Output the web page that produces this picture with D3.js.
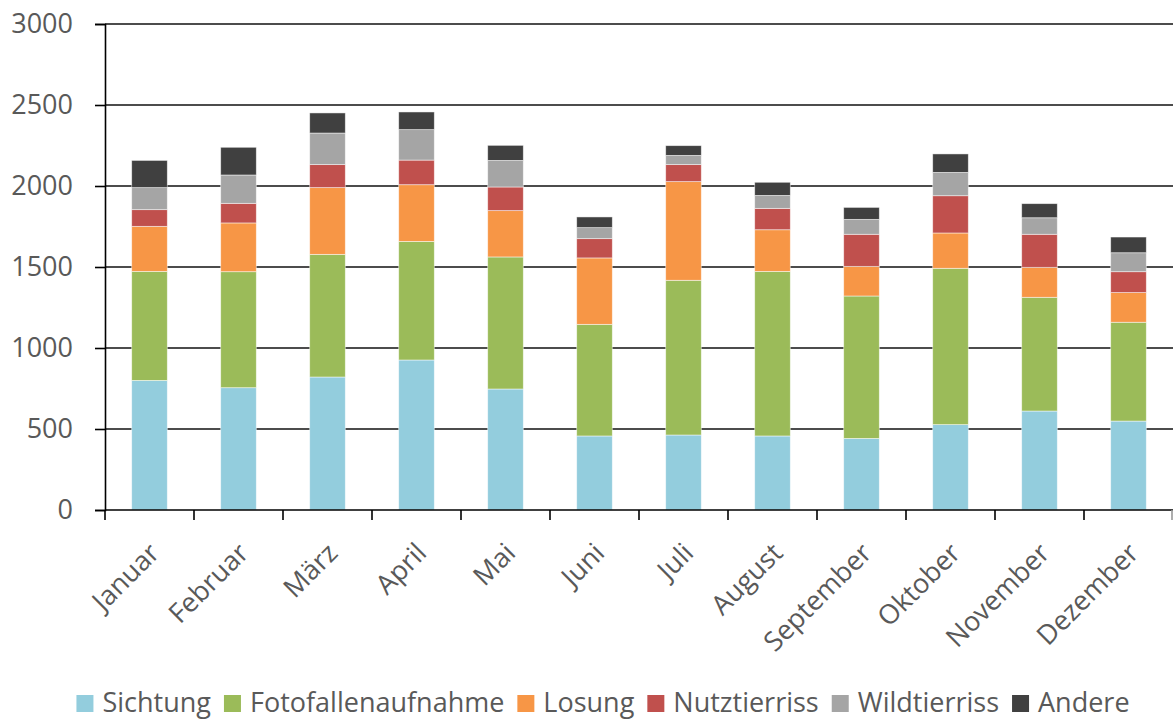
<!DOCTYPE html>
<html>
<head>
<meta charset="utf-8">
<script src="https://cdn.jsdelivr.net/npm/d3@7"></script>
<style>
  body { margin: 0; background: #fff; }
  svg { display: block; font-family: "Open Sans", sans-serif; }
</style>
</head>
<body>
<div id="chart"></div>
<script>
const months = ['Januar','Februar','März','April','Mai','Juni','Juli','August','September','Oktober','November','Dezember']
const seriesNames = ['Sichtung','Fotofallenaufnahme','Losung','Nutztierriss','Wildtierriss','Andere']
const colors = ['#93cddd','#9bbb59','#f79646','#c0504d','#a5a5a5','#404040']

const sichtung = [800,755,821,926,747,457,463,457,442,527,611,549]
const fotofallen = [673,716,757,732,815,689,955,1016,879,965,702,610]
const losung = [278,301,412,350,286,410,609,257,183,218,185,183]
const nutztierriss = [103,121,142,152,146,119,105,132,198,230,204,129]
const wildtierriss = [136,175,195,188,164,68,57,80,92,144,102,117]
const andere = [168,171,124,109,93,66,60,81,74,114,87,97]
const yTicks = [0,500,1000,1500,2000,2500,3000]

const W = 1173, H = 722
const margin = {top: 24, right: 0, bottom: 212, left: 105}

const rows = months.map((m, i) => ({
  month: m,
  Sichtung: sichtung[i],
  Fotofallenaufnahme: fotofallen[i],
  Losung: losung[i],
  Nutztierriss: nutztierriss[i],
  Wildtierriss: wildtierriss[i],
  Andere: andere[i]
}))

const svg = d3.select('#chart').append('svg')
  .attr('width', W)
  .attr('height', H)

const x = d3.scaleBand()
  .domain(months)
  .range([margin.left, W - margin.right])
  .paddingInner(0.6)
  .paddingOuter(0.3)
const y = d3.scaleLinear()
  .domain([0, 3000])
  .range([H - margin.bottom, margin.top])

const color = d3.scaleOrdinal().domain(seriesNames).range(colors)

/* gridlines */
svg.append('g').attr('class','grid')
  .selectAll('line').data(yTicks.filter(d => d > 0)).enter().append('line')
  .attr('x1', margin.left).attr('x2', W - margin.right)
  .attr('y1', d => y(d)).attr('y2', d => y(d))
  .attr('stroke', '#111').attr('stroke-width', 1.6)

/* stacked bars */
const stacked = d3.stack().keys(seriesNames)(rows)
svg.append('g').attr('class','bars')
  .selectAll('g').data(stacked).enter().append('g')
  .attr('fill', d => color(d.key))
  .selectAll('rect').data(d => d).enter().append('rect')
  .attr('x', d => x(d.data.month))
  .attr('width', x.bandwidth())
  .attr('y', d => y(d[1]))
  .attr('height', d => y(d[0]) - y(d[1]))
  .attr('stroke', '#fff').attr('stroke-opacity', 0.6).attr('stroke-width', 0.8)

/* y axis */
const yAxis = svg.append('g')
  .attr('transform', `translate(${margin.left},0)`)
  .call(d3.axisLeft(y).tickValues(yTicks).tickFormat(d3.format('d')).tickSize(10).tickPadding(22))
yAxis.select('.domain').attr('stroke', '#000').attr('stroke-width', 1.6)
yAxis.selectAll('.tick line').attr('stroke', '#000').attr('stroke-width', 1.6)
yAxis.selectAll('.tick text')
  .attr('fill', '#595959').style('font-size', '27px').style('font-family', '"Open Sans", sans-serif')

/* x axis with ticks at category boundaries */
const x0 = y(0)
const xAxis = svg.append('g').attr('class','xaxis')
xAxis.append('line')
  .attr('x1', margin.left).attr('x2', W - margin.right)
  .attr('y1', x0).attr('y2', x0)
  .attr('stroke', '#000').attr('stroke-width', 1.6)
const bounds = d3.range(months.length + 1).map(i => margin.left + i * x.step())
xAxis.selectAll('.bt').data(bounds).enter().append('line')
  .attr('class','bt')
  .attr('x1', d => Math.min(d, W - 1)).attr('x2', d => Math.min(d, W - 1))
  .attr('y1', x0).attr('y2', x0 + 10)
  .attr('stroke', (d, i) => i === months.length ? '#999' : '#000').attr('stroke-width', 1.6)
xAxis.selectAll('.lbl').data(months).enter().append('text')
  .attr('class','lbl')
  .attr('transform', d => `translate(${x(d) + x.bandwidth() / 2 + 5},${x0 + 38}) rotate(-45)`)
  .attr('text-anchor', 'end')
  .attr('dy', '0.35em')
  .attr('fill', '#595959')
  .style('font-size', '27px')
  .text(d => d)

/* legend */
const legend = svg.append('g').attr('class','legend')
const items = legend.selectAll('g').data(seriesNames).enter().append('g')
items.append('rect')
  .attr('width', 17).attr('height', 17)
  .attr('y', -17)
  .attr('fill', d => color(d))
items.append('text')
  .attr('x', 26)
  .attr('fill', '#595959')
  .style('font-size', '27px')
  .text(d => d)
let offset = 0
items.each(function () {
  const g = d3.select(this)
  g.attr('transform', `translate(${offset},0)`)
  offset += 26 + g.select('text').node().getComputedTextLength() + 13
})
offset -= 13
legend.attr('transform', `translate(${603 - offset / 2},712)`)
</script>
</body>
</html>
